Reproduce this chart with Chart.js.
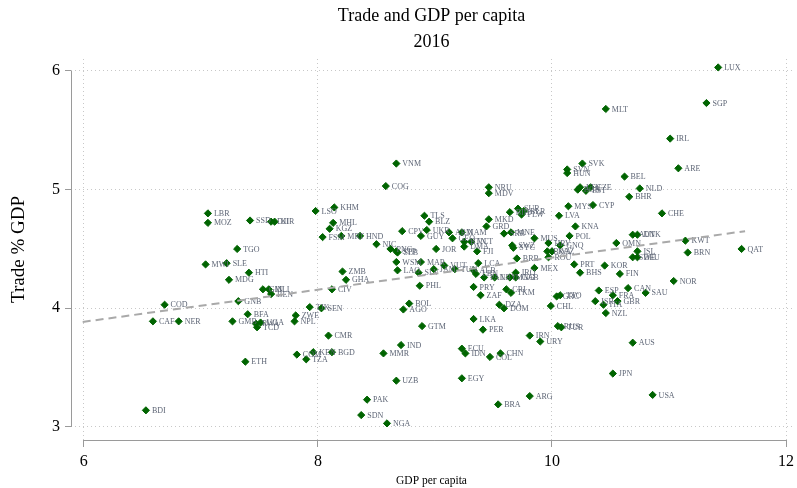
<!DOCTYPE html>
<html>
<head>
<meta charset="utf-8">
<script src="https://cdn.jsdelivr.net/npm/chart.js@4"></script>
<style>
  html, body { margin: 0; padding: 0; background: #fff; }
</style>
</head>
<body>
<canvas id="chart" width="797" height="488"></canvas>
<script>
// log GDP per capita vs log trade % GDP, 2016
const countries = [
  'LUX', 'SGP', 'MLT', 'IRL', 'ARE', 'BEL', 'NLD', 'BHR', 'SVK', 'SVN',
  'HUN', 'LTU', 'BGR', 'CZE', 'EST', 'MYS', 'CYP', 'LVA', 'CHE', 'KNA',
  'POL', 'AUT', 'DNK', 'MUS', 'HRV', 'GNQ', 'BWA', 'KAZ', 'ROU', 'OMN',
  'ISL', 'SWE', 'DEU', 'KWT', 'BRN', 'QAT', 'PRT', 'BHS', 'KOR', 'FIN',
  'NOR', 'CAN', 'SAU', 'ESP', 'FRA', 'ISR', 'ITA', 'GBR', 'NZL', 'GRC',
  'TTO', 'CHL', 'RUS', 'TUR', 'URY', 'IRN', 'AUS', 'JPN', 'USA', 'ARG',
  'BRA', 'NGA', 'SDN', 'PAK', 'UZB', 'EGY', 'ECU', 'IDN', 'COL', 'CHN',
  'PER', 'IND', 'MMR', 'CMR', 'BGD', 'KEN', 'TZA', 'COM', 'ETH', 'BDI',
  'GTM', 'LKA', 'DZA', 'DOM', 'CRI', 'TKM', 'ZAF', 'PRY', 'BOL', 'AGO',
  'PHL', 'SEN', 'TJK', 'CIV', 'GHA', 'ZMB', 'LAO', 'SLV', 'WSM', 'MAR',
  'JAM', 'VUT', 'TUN', 'LCA', 'ALB', 'LBN', 'PAN', 'LBY', 'IRQ', 'GAB',
  'MNG', 'MEX', 'BRB', 'SWZ', 'SYC', 'MNE', 'SRB', 'GRD', 'MKD', 'BIH',
  'SUR', 'BLR', 'PLW', 'NRU', 'MDV', 'VNM', 'COG', 'LSO', 'KHM', 'TLS',
  'BLZ', 'MHL', 'KGZ', 'CPV', 'UKR', 'FSM', 'MRT', 'HND', 'GUY', 'ARM',
  'GEO', 'NAM', 'NIC', 'PNG', 'STP', 'SLB', 'JOR', 'BTN', 'VCT', 'DMA',
  'FJI', 'LBR', 'MOZ', 'SSD', 'DJI', 'KIR', 'TGO', 'SLE', 'MWI', 'HTI',
  'MDG', 'GIN', 'MLI', 'BEN', 'GNB', 'COD', 'BFA', 'CAF', 'NER', 'GMB',
  'RWA', 'UGA', 'TCD', 'ZWE', 'NPL'
];
const gdpPc = [
  11.42, 11.32, 10.46, 11.01, 11.08, 10.62, 10.75, 10.66, 10.26, 10.13,
  10.13, 10.24, 10.22, 10.33, 10.29, 10.14, 10.35, 10.06, 10.94, 10.20,
  10.15, 10.69, 10.73, 9.85, 9.97, 10.07, 9.96, 10.00, 9.97, 10.55,
  10.73, 10.69, 10.73, 11.14, 11.16, 11.62, 10.19, 10.24, 10.45, 10.58,
  11.04, 10.65, 10.80, 10.40, 10.52, 10.37, 10.44, 10.56, 10.46, 10.04,
  10.07, 9.99, 10.05, 10.08, 9.90, 9.81, 10.69, 10.52, 10.86, 9.81,
  9.54, 8.59, 8.37, 8.42, 8.67, 9.23, 9.23, 9.26, 9.47, 9.56,
  9.41, 8.71, 8.56, 8.09, 8.12, 7.96, 7.90, 7.82, 7.38, 6.53,
  8.89, 9.33, 9.55, 9.59, 9.61, 9.65, 9.39, 9.33, 8.78, 8.73,
  8.87, 8.03, 7.93, 8.12, 8.24, 8.21, 8.68, 8.86, 8.67, 8.88,
  8.99, 9.08, 9.17, 9.37, 9.33, 9.35, 9.42, 9.51, 9.69, 9.69,
  9.64, 9.85, 9.70, 9.66, 9.67, 9.65, 9.59, 9.44, 9.46, 9.64,
  9.71, 9.76, 9.74, 9.46, 9.46, 8.67, 8.58, 7.98, 8.14, 8.91,
  8.95, 8.13, 8.10, 8.72, 8.93, 8.04, 8.20, 8.36, 8.88, 9.12,
  9.15, 9.23, 8.50, 8.62, 8.67, 8.68, 9.01, 9.25, 9.31, 9.25,
  9.36, 7.06, 7.06, 7.42, 7.60, 7.63, 7.31, 7.22, 7.04, 7.41,
  7.24, 7.53, 7.58, 7.60, 7.32, 6.69, 7.40, 6.59, 6.81, 7.27,
  7.47, 7.51, 7.48, 7.81, 7.80
];
const tradeGdp = [
  6.03, 5.73, 5.68, 5.43, 5.18, 5.11, 5.01, 4.94, 5.22, 5.17,
  5.14, 5.02, 5.00, 5.02, 4.99, 4.86, 4.87, 4.78, 4.80, 4.69,
  4.61, 4.62, 4.62, 4.59, 4.55, 4.53, 4.48, 4.48, 4.43, 4.55,
  4.48, 4.43, 4.43, 4.57, 4.47, 4.50, 4.37, 4.30, 4.36, 4.29,
  4.23, 4.17, 4.13, 4.15, 4.11, 4.06, 4.03, 4.06, 3.96, 4.10,
  4.11, 4.02, 3.85, 3.84, 3.72, 3.77, 3.71, 3.45, 3.27, 3.26,
  3.19, 3.03, 3.10, 3.23, 3.39, 3.41, 3.66, 3.62, 3.59, 3.62,
  3.82, 3.69, 3.62, 3.77, 3.63, 3.63, 3.57, 3.61, 3.55, 3.14,
  3.85, 3.91, 4.03, 4.00, 4.16, 4.13, 4.11, 4.18, 4.04, 3.99,
  4.19, 4.00, 4.01, 4.16, 4.24, 4.31, 4.32, 4.30, 4.39, 4.39,
  4.33, 4.36, 4.33, 4.38, 4.32, 4.29, 4.26, 4.26, 4.30, 4.26,
  4.26, 4.34, 4.42, 4.53, 4.51, 4.64, 4.63, 4.69, 4.75, 4.81,
  4.84, 4.82, 4.79, 5.02, 4.97, 5.22, 5.03, 4.82, 4.85, 4.78,
  4.73, 4.72, 4.67, 4.65, 4.66, 4.60, 4.61, 4.61, 4.61, 4.64,
  4.59, 4.64, 4.54, 4.50, 4.48, 4.47, 4.50, 4.56, 4.56, 4.52,
  4.48, 4.80, 4.72, 4.74, 4.73, 4.73, 4.50, 4.38, 4.37, 4.30,
  4.24, 4.16, 4.16, 4.12, 4.06, 4.03, 3.95, 3.89, 3.89, 3.89,
  3.87, 3.88, 3.84, 3.94, 3.89
];
// linear fit, end points
const fitX = [5.99, 11.65];
const fitY = [3.885, 4.65];

const xTicks = [6, 8, 10, 12];
const yTicks = [3, 4, 5, 6];

const serif = '"Liberation Serif", "Times New Roman", serif';
const axisGrey = '#9a9a9a';

const scatterPts = countries.map((c, i) => ({ x: gdpPc[i], y: tradeGdp[i] }));
const fitPts = fitX.map((v, i) => ({ x: v, y: fitY[i] }));

// country codes to the right of each marker
const markerLabels = {
  id: 'markerLabels',
  afterDatasetDraw(chart, args) {
    if (args.index !== 1) return;
    const ctx = chart.ctx;
    ctx.save();
    ctx.font = '8px ' + serif;
    ctx.fillStyle = '#5e6676';
    ctx.textBaseline = 'middle';
    args.meta.data.forEach((pt, i) => {
      ctx.fillText(countries[i], pt.x + 6, pt.y + 0.5);
    });
    ctx.restore();
  }
};

// stata style axis lines running tick to tick
const axisLines = {
  id: 'axisLines',
  afterDraw(chart) {
    const { ctx, chartArea, scales } = chart;
    ctx.save();
    ctx.strokeStyle = axisGrey;
    ctx.lineWidth = 1;
    ctx.beginPath();
    ctx.moveTo(scales.x.getPixelForValue(xTicks[0]), chartArea.bottom + 0.5);
    ctx.lineTo(scales.x.getPixelForValue(xTicks[xTicks.length - 1]), chartArea.bottom + 0.5);
    ctx.moveTo(chartArea.left + 0.5, scales.y.getPixelForValue(yTicks[0]));
    ctx.lineTo(chartArea.left + 0.5, scales.y.getPixelForValue(yTicks[yTicks.length - 1]));
    ctx.stroke();
    ctx.restore();
  }
};

new Chart(document.getElementById('chart'), {
  type: 'scatter',
  data: {
    datasets: [
      {
        type: 'line',
        data: fitPts,
        borderColor: '#a9a9a9',
        borderWidth: 2,
        borderDash: [8, 5],
        pointRadius: 0,
        fill: false,
      },
      {
        data: scatterPts,
        pointStyle: 'rectRot',
        pointRadius: 3.6,
        backgroundColor: '#006400',
        borderColor: '#006400',
        borderWidth: 1,
      },
    ],
  },
  options: {
    responsive: false,
    animation: false,
    devicePixelRatio: 1,
    layout: { padding: 0 },
    plugins: {
      legend: { display: false },
      tooltip: { enabled: false },
      title: {
        display: true,
        fullSize: false,
        text: ['Trade and GDP per capita', '2016'],
        color: '#000',
        font: { family: serif, size: 18, weight: 'normal', lineHeight: 1.45 },
        padding: { top: 3, bottom: 3.8 },
      },
    },
    scales: {
      x: {
        type: 'linear',
        min: 5.89,
        max: 12.051,
        afterBuildTicks: (s) => { s.ticks = xTicks.map((v) => ({ value: v })); },
        afterFit: (s) => { s.height = 48; s.paddingLeft = 0; s.paddingRight = 0; },
        ticks: { color: '#000', font: { family: serif, size: 16 }, padding: 5, maxRotation: 0, autoSkip: false },
        grid: { color: '#c8c8c8', tickColor: axisGrey, tickLength: 7, tickBorderDash: [] },
        border: { display: false, dash: [1, 3] },
        title: {
          display: true,
          text: 'GDP per capita',
          color: '#000',
          font: { family: serif, size: 11.5 },
          padding: { top: 0, bottom: 0 },
        },
      },
      y: {
        type: 'linear',
        min: 2.89,
        max: 6.101,
        afterBuildTicks: (s) => { s.ticks = yTicks.map((v) => ({ value: v })); },
        afterFit: (s) => { s.width = 71; s.paddingTop = 0; s.paddingBottom = 0; },
        ticks: { color: '#000', font: { family: serif, size: 16 }, padding: 5 },
        grid: { color: '#c8c8c8', tickColor: axisGrey, tickLength: 6, tickBorderDash: [] },
        border: { display: false, dash: [1, 3] },
        title: {
          display: true,
          text: 'Trade % GDP',
          color: '#000',
          font: { family: serif, size: 19 },
          padding: { top: 8, bottom: 0 },
        },
      },
    },
  },
  plugins: [markerLabels, axisLines],
});
</script>
</body>
</html>
